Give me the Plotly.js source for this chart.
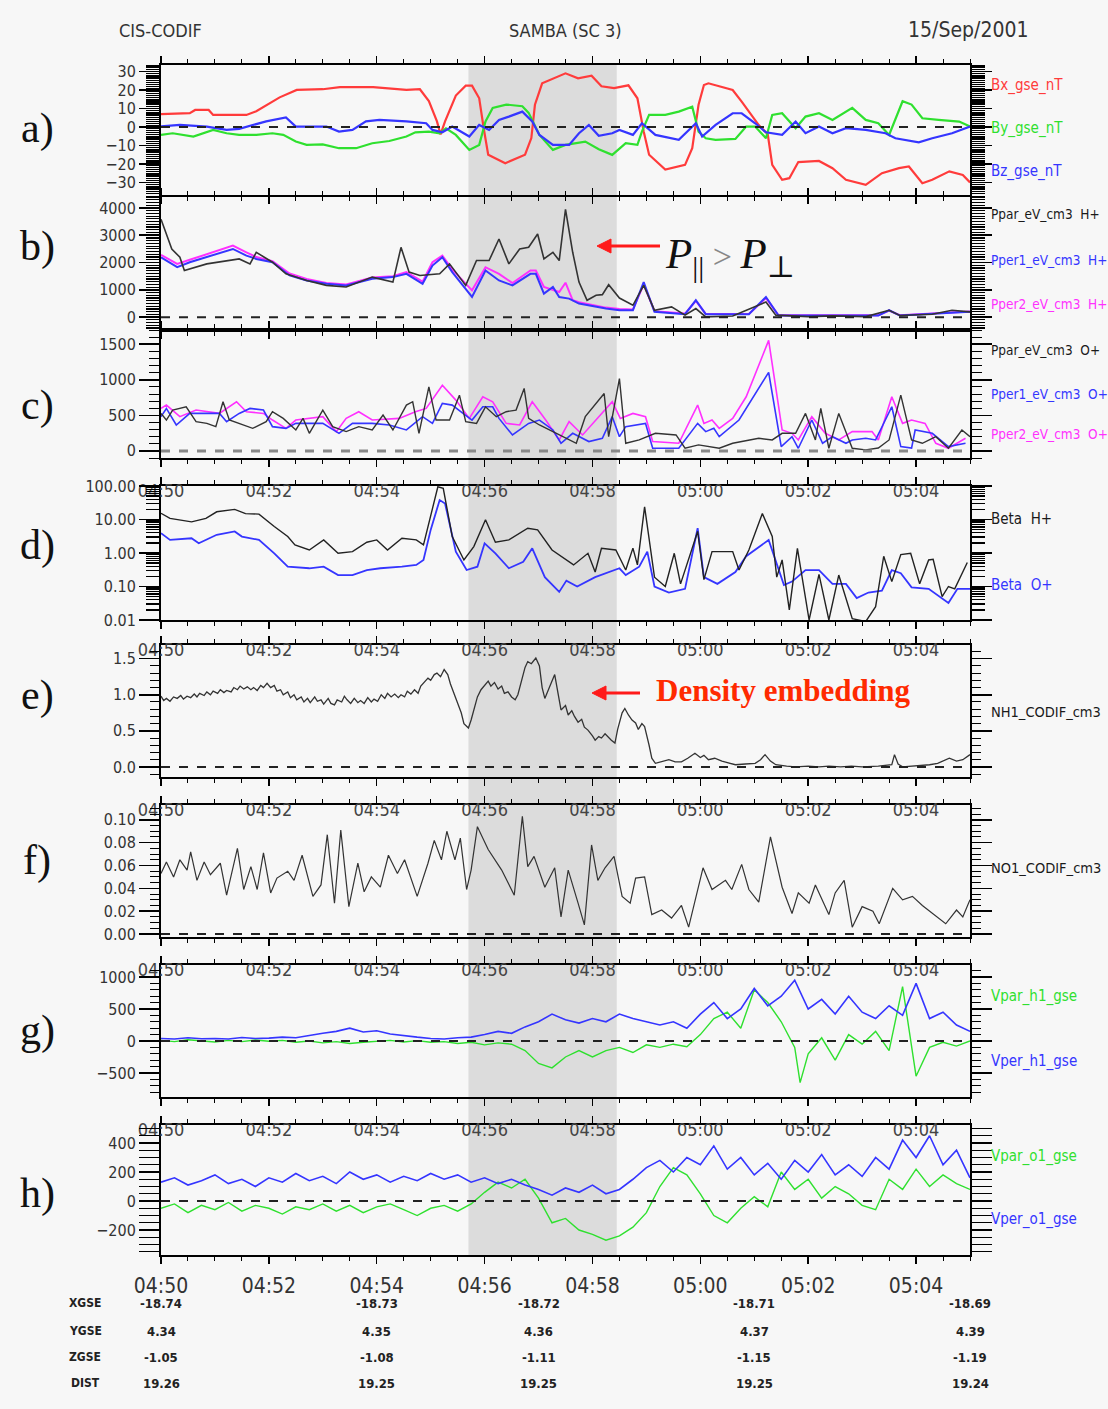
<!DOCTYPE html>
<html><head><meta charset="utf-8">
<script src="https://cdn.plot.ly/plotly-3.0.1.min.js"></script>
<style>html,body{margin:0;padding:0;background:#f7f7f7;} #chart{width:1108px;height:1409px;}</style>
</head><body><div id="chart"></div>
<script>
// ---------------- DATA (time in minutes after 04:50 UT) ----------------
const tBx = [0,0.54,0.64,0.89,0.98,1.59,1.78,2.21,2.52,3.01,3.32,3.94,4.55,4.8,4.98,5.13,5.19,5.28,5.47,5.65,5.77,5.9,5.99,6.08,6.39,6.76,6.88,6.94,7.07,7.5,7.74,7.99,8.17,8.4,8.68,8.84,8.96,9.06,9.36,9.73,9.86,9.98,10.07,10.16,10.6,10.78,11.09,11.25,11.34,11.53,11.65,11.83,12.2,12.45,12.7,13.07,13.38,13.69,13.87,14.12,14.31,14.62,14.87,15];
const Bx = [6.9,7.5,9.2,9.2,6.5,6.5,8.5,16,20,20.4,21.5,21.5,20,20.4,14,3,-4,3,17,22.3,22.3,15.5,-0.7,-15,-19.6,-15,-6,12,23.6,29,26.3,27.7,22,21,22.5,15.5,-2.5,-15,-23,-20.5,-11.5,12,22.7,23.6,20,13.7,1,-4,-20.5,-28.6,-27.7,-19,-18.4,-22.3,-28.6,-31.3,-25,-22.3,-21.4,-30.4,-28.6,-24,-26,-30];
const tBy = [0,0.23,0.6,0.97,1.22,1.46,1.77,2.08,2.27,2.51,2.7,3.0,3.31,3.62,3.93,4.24,4.55,4.73,4.98,5.17,5.29,5.47,5.72,5.9,6.03,6.15,6.4,6.71,6.83,7.02,7.27,7.51,7.88,8.13,8.38,8.62,8.84,8.93,9.06,9.36,9.61,9.86,9.98,10.1,10.29,10.66,10.85,11.03,11.22,11.34,11.53,11.78,11.96,12.2,12.45,12.82,13.07,13.31,13.5,13.75,13.93,14.12,14.43,14.8,15];
const By = [-4.3,-3.4,-5.2,-1.6,-3.4,-4.3,-4.3,-3.4,-4.3,-7.9,-9.7,-9.4,-11.5,-11.5,-8.8,-7.6,-5.2,-2.9,-2.5,-3.4,-0.7,-4.3,-12.4,-9.7,3,10.3,12.1,11.2,7.6,-4.3,-12.4,-9.7,-7.9,-12,-15.1,-8.8,-9.7,-2.5,6.5,6.5,8.3,11,-2.5,-6.1,-7,-6.5,0.2,0.2,-6.1,6.5,7.4,-0.7,5.6,7.4,3.8,10.3,3.8,2,-4.3,13.9,12.1,4.7,3.8,2.9,0.2];
const tBz = [0,0.35,0.85,1.22,1.46,1.71,1.96,2.33,2.51,3.07,3.31,3.56,3.81,4.05,4.55,4.92,5.04,5.23,5.41,5.72,5.9,6.09,6.28,6.46,6.71,6.89,7.02,7.27,7.57,7.76,7.94,8.13,8.38,8.5,8.75,8.93,9.17,9.61,9.92,10.04,10.29,10.6,10.78,11.03,11.22,11.53,11.78,11.96,12.2,12.45,12.7,13.07,13.44,13.63,14.06,14.31,14.68,15];
const Bz = [0.3,1.1,0.2,-1.6,-1,1.1,3,5.1,0.2,0.2,-2.5,-1.6,3,3.8,3,2,-1.6,-2.9,0.2,-5.2,1.1,-1.6,3.8,5.6,8.3,3,-4.3,-9.7,-9.7,-3.4,1.1,-4.8,-3.4,-1.6,-4.3,2,-4.3,-7,2,-5.2,1.1,7.4,7.4,2,-2.9,-4.3,2.9,-3.4,0.2,-3.4,-0.7,-1.6,-3.4,-6.1,-8.3,-6.1,-3.4,0.2];

const tPparH = [0,0.2,0.35,0.44,0.85,1.46,1.65,1.77,2.08,2.33,2.7,3.07,3.44,3.93,4.3,4.46,4.61,4.8,5.17,5.35,5.66,5.85,6.09,6.28,6.46,6.65,6.83,6.99,7.11,7.27,7.39,7.51,7.64,7.76,7.91,8.07,8.19,8.31,8.5,8.75,8.96,9.15,9.48,9.73,9.92,10.1,10.6,10.85,11.22,11.4,12.0,12.45,13.07,13.5,13.7,14.3,14.68,15];
const PparH = [3588,2497,2194,1709,1952,2133,1952,2376,2012,1588,1345,1164,1103,1467,1285,2558,1649,1527,1588,1952,1164,2073,2073,2861,1952,2497,2558,3043,2133,2376,2073,3951,2376,1285,618,800,824,1188,700,436,1164,254,376,73,315,12,40,254,558,73,20,48,20,254,60,109,254,194];
const tPperH = [0,0.3,0.54,0.85,1.34,1.59,1.77,2.08,2.39,2.7,3.07,3.44,3.93,4.3,4.55,4.86,5.04,5.23,5.41,5.78,6.03,6.28,6.52,6.86,6.96,7.11,7.27,7.39,7.57,7.76,8.25,8.5,8.75,8.96,9.15,9.73,9.92,10.1,10.9,11.22,11.45,13.3,13.5,13.7,15];
const Pper1H = [2194,1830,2012,2194,2497,2255,2133,2012,1527,1345,1224,1164,1406,1467,1588,1224,1891,2194,1649,739,1709,1345,1164,1588,1588,861,1103,739,679,497,315,254,254,1285,194,109,618,109,109,739,60,60,254,60,194];
const tPper2H = [0,0.3,0.54,0.85,1.34,1.59,1.77,2.08,2.39,2.7,3.07,3.44,3.93,4.3,4.55,4.86,5.04,5.23,5.41,5.78,6.03,6.28,6.52,6.86,6.96,7.11,7.39,7.51,7.64,7.76,8.25,8.5,8.75,8.96,9.15,9.73,9.92,10.1,10.9,11.22,11.45,13.3,13.5,13.7,15];
const Pper2H = [2280,1952,2100,2300,2618,2376,2200,2050,1600,1400,1250,1200,1450,1500,1650,1300,2012,2255,1750,982,1830,1588,1250,1709,1709,1103,921,1261,618,550,350,300,280,1200,220,130,600,120,120,700,70,70,240,70,210];

const tPparO = [0,0.1,0.23,0.48,0.66,0.85,1.03,1.15,1.28,1.46,1.71,1.96,2.08,2.27,2.51,2.64,2.76,3.01,3.19,3.44,3.68,3.93,4.12,4.3,4.55,4.67,4.79,4.98,5.1,5.35,5.54,5.66,5.85,6.03,6.22,6.4,6.59,6.74,6.83,7.02,7.33,7.57,7.7,7.88,8.07,8.22,8.31,8.5,8.62,8.87,9.18,9.55,9.73,9.98,10.35,10.6,11.09,11.34,11.53,11.77,11.96,12.14,12.24,12.39,12.57,12.82,13.07,13.31,13.5,13.72,13.93,14.12,14.37,14.61,14.86,15];
const PparO = [527,434,574,620,411,387,341,691,434,387,317,411,551,457,294,457,247,574,341,271,341,294,504,294,644,691,247,901,434,434,784,411,387,620,481,551,574,878,457,364,247,154,107,481,667,807,200,1017,107,154,247,224,37,84,37,107,177,154,247,247,527,154,597,37,527,37,14,40,154,784,154,107,200,37,294,200];
const tPper1O = [0,0.1,0.29,0.54,1.09,1.22,1.46,1.65,1.9,2.08,2.33,2.51,3.01,3.31,3.56,3.93,4.24,4.55,4.86,5.04,5.23,5.41,5.6,5.78,5.97,6.15,6.28,6.52,6.83,7.02,7.27,7.42,7.64,7.94,8.19,8.38,8.5,8.62,8.99,9.12,9.61,9.95,10.1,10.26,10.35,10.72,11.28,11.5,11.71,11.83,12.08,12.27,12.45,12.7,12.82,13.07,13.25,13.56,13.72,13.93,13.99,14.3,14.61,14.92];
const Pper1O = [481,597,364,527,527,411,527,597,574,341,317,387,387,247,387,387,364,294,481,387,667,644,527,434,620,620,457,224,387,434,294,107,247,131,177,481,200,341,387,37,37,387,271,317,200,434,1104,60,200,37,434,107,200,107,154,177,154,621,60,40,294,247,60,107];
const tPper2O = [0,0.1,0.35,0.66,1.09,1.4,1.59,1.9,2.08,2.33,2.51,3.01,3.25,3.44,3.68,3.93,4.42,4.73,4.92,5.23,5.47,5.72,5.97,6.15,6.4,6.65,6.89,7.14,7.39,7.57,7.82,8.13,8.38,8.53,8.75,8.99,9.12,9.61,9.95,10.07,10.23,10.35,10.6,10.85,11.28,11.53,11.71,11.83,12.08,12.33,12.57,12.82,13.19,13.31,13.56,13.75,13.93,14.18,14.37,14.61,14.92];
const Pper2O = [597,644,481,574,527,691,551,527,434,317,434,481,271,457,551,434,457,551,597,924,714,457,761,691,387,364,691,434,154,411,224,481,691,457,527,481,131,107,644,387,434,317,457,761,1554,294,247,154,481,247,154,271,271,154,761,387,434,387,107,37,177];

const tBetaH = [0,0.18,0.58,0.84,1.04,1.37,1.57,1.83,2.1,2.36,2.49,2.76,3.02,3.29,3.55,3.82,4.01,4.21,4.48,4.74,4.87,5.01,5.14,5.24,5.4,5.63,5.8,6.03,6.2,6.46,6.8,6.99,7.26,7.65,7.92,8.05,8.18,8.44,8.62,8.75,8.84,8.98,9.15,9.36,9.52,9.64,9.95,10.07,10.23,10.6,10.72,10.91,11.16,11.34,11.43,11.53,11.65,11.8,12.02,12.2,12.39,12.57,12.82,13.07,13.25,13.41,13.56,13.72,13.9,14.08,14.24,14.33,14.49,14.61,14.73,14.95];
const BetaH = [15.3,10.8,8.5,10.8,17,20,15,14.5,6.2,3.1,1.74,1.23,2.46,0.98,1.1,2.1,2.46,1.23,2.76,2.46,1.74,12,95,85,3.1,0.62,1.55,9.8,2.1,2.46,5.5,4.9,1.23,0.44,0.98,0.27,1.38,1.23,0.31,1.4,0.44,24,0.19,0.1,0.98,0.12,4.4,0.16,1.1,1.1,0.31,1.23,15,3.1,0.19,0.62,0.02,1.38,0.01,0.23,0.01,0.22,0.011,0.009,0.025,0.8,0.14,0.9,0.98,0.12,0.62,0.65,0.05,0.1,0.085,0.52];
const tBetaO = [0,0.18,0.58,0.71,1.04,1.37,1.5,1.83,2.1,2.36,2.76,3.02,3.29,3.55,3.82,4.08,4.48,4.74,4.87,5.01,5.17,5.27,5.47,5.67,5.87,6.0,6.2,6.46,6.73,6.89,7.12,7.39,7.52,7.72,8.05,8.31,8.5,8.62,8.87,9.02,9.15,9.42,9.73,9.95,10.07,10.32,10.66,10.85,11.28,11.56,11.71,11.96,12.2,12.45,12.7,12.91,13.13,13.38,13.56,13.72,13.93,14.24,14.61,14.77,15];
const BetaO = [3.9,2.46,2.76,1.95,3.5,4.4,3.1,2.46,0.98,0.39,0.35,0.39,0.22,0.22,0.31,0.35,0.39,0.44,0.62,4.9,38,30,1.1,0.31,0.39,1.95,0.98,0.35,0.55,1.38,0.19,0.069,0.15,0.1,0.19,0.27,0.35,0.22,0.39,1.1,0.1,0.066,0.085,5.5,0.19,0.12,0.27,0.8,2.46,0.11,0.14,0.31,0.31,0.12,0.12,0.045,0.066,0.075,0.31,0.25,0.094,0.085,0.032,0.085,0.085];

const NH1 = [[0,0.98],[0.06,0.92],[0.11,0.95],[0.18,0.91],[0.24,0.97],[0.3,0.95],[0.37,0.99],[0.43,0.94],[0.49,0.98],[0.56,0.96],[0.62,1.01],[0.68,0.97],[0.73,1.02],[0.8,0.99],[0.86,1.04],[0.92,1.0],[0.98,1.05],[1.05,1.02],[1.11,1.07],[1.17,1.03],[1.23,1.06],[1.3,1.04],[1.36,1.1],[1.42,1.07],[1.48,1.12],[1.54,1.08],[1.6,1.11],[1.67,1.07],[1.73,1.1],[1.79,1.06],[1.85,1.13],[1.91,1.1],[1.97,1.16],[2.04,1.1],[2.1,1.13],[2.16,1.05],[2.22,1.07],[2.28,1.0],[2.35,1.04],[2.41,0.96],[2.47,1.0],[2.53,0.93],[2.6,0.97],[2.66,0.9],[2.72,0.95],[2.78,0.89],[2.85,0.97],[2.91,0.91],[2.97,0.93],[3.03,0.87],[3.1,0.95],[3.16,0.88],[3.22,0.86],[3.28,0.93],[3.35,0.9],[3.41,0.98],[3.46,0.93],[3.53,0.88],[3.59,0.95],[3.65,0.89],[3.71,0.92],[3.78,0.88],[3.84,0.96],[3.9,0.9],[3.96,0.94],[4.03,0.91],[4.09,1.0],[4.15,0.95],[4.21,1.02],[4.28,0.97],[4.34,1.01],[4.4,0.96],[4.45,1.0],[4.52,0.97],[4.58,1.05],[4.64,1.01],[4.7,1.07],[4.77,1.02],[4.83,1.12],[4.9,1.18],[4.96,1.23],[5.01,1.2],[5.07,1.28],[5.13,1.3],[5.19,1.25],[5.26,1.35],[5.32,1.28],[5.38,1.15],[5.45,0.98],[5.51,0.9],[5.57,0.75],[5.63,0.6],[5.7,0.54],[5.76,0.65],[5.82,0.85],[5.88,0.97],[5.94,1.07],[6.0,1.13],[6.07,1.19],[6.13,1.12],[6.19,1.17],[6.26,1.08],[6.32,1.12],[6.38,1.02],[6.44,1.04],[6.5,0.97],[6.57,0.93],[6.63,1.0],[6.7,1.25],[6.76,1.38],[6.81,1.46],[6.88,1.43],[6.96,1.51],[7.02,1.4],[7.08,1.1],[7.12,0.95],[7.2,1.1],[7.26,1.2],[7.31,1.28],[7.37,1.0],[7.43,0.79],[7.5,0.85],[7.56,0.72],[7.62,0.78],[7.68,0.7],[7.74,0.62],[7.8,0.66],[7.86,0.55],[7.93,0.51],[8.0,0.43],[8.05,0.37],[8.12,0.42],[8.18,0.4],[8.24,0.46],[8.3,0.4],[8.36,0.37],[8.42,0.33],[8.48,0.52],[8.55,0.75],[8.61,0.81],[8.67,0.72],[8.74,0.65],[8.8,0.61],[8.86,0.52],[8.92,0.6],[8.98,0.56],[9.05,0.3],[9.11,0.12],[9.17,0.05],[9.3,0.08],[9.42,0.1],[9.54,0.07],[9.66,0.07],[9.78,0.12],[9.91,0.19],[10.0,0.13],[10.08,0.16],[10.16,0.1],[10.28,0.12],[10.41,0.08],[10.53,0.06],[10.66,0.03],[10.84,0.04],[11.03,0.05],[11.12,0.1],[11.21,0.17],[11.3,0.08],[11.4,0.03],[11.6,0.01],[11.77,0.0],[12.0,0.01],[12.2,0.0],[12.39,0.01],[12.6,0.0],[12.8,0.01],[13.01,0.0],[13.3,0.01],[13.55,0.03],[13.61,0.17],[13.67,0.04],[13.76,0.0],[14.0,0.01],[14.25,0.03],[14.4,0.05],[14.5,0.08],[14.63,0.12],[14.75,0.08],[14.87,0.1],[15,0.17]];

const NO1 = [[0,0.053],[0.11,0.063],[0.24,0.05],[0.36,0.065],[0.49,0.056],[0.55,0.072],[0.67,0.047],[0.8,0.063],[0.92,0.052],[1.11,0.062],[1.23,0.034],[1.42,0.075],[1.54,0.039],[1.67,0.059],[1.79,0.039],[1.91,0.071],[2.04,0.036],[2.16,0.049],[2.35,0.055],[2.47,0.047],[2.62,0.069],[2.82,0.033],[2.97,0.043],[3.09,0.087],[3.22,0.027],[3.34,0.091],[3.49,0.024],[3.65,0.062],[3.77,0.037],[3.9,0.05],[4.08,0.041],[4.23,0.069],[4.39,0.053],[4.52,0.065],[4.76,0.033],[4.95,0.062],[5.07,0.082],[5.2,0.065],[5.3,0.09],[5.45,0.065],[5.55,0.084],[5.67,0.039],[5.76,0.056],[5.88,0.094],[6.07,0.074],[6.32,0.056],[6.56,0.034],[6.71,0.103],[6.81,0.059],[6.93,0.068],[7.12,0.041],[7.3,0.058],[7.43,0.015],[7.55,0.056],[7.74,0.027],[7.86,0.008],[7.99,0.078],[8.11,0.047],[8.24,0.058],[8.4,0.068],[8.55,0.033],[8.7,0.027],[8.8,0.049],[8.98,0.05],[9.11,0.017],[9.29,0.021],[9.48,0.014],[9.66,0.025],[9.79,0.006],[9.91,0.03],[10.06,0.058],[10.22,0.039],[10.47,0.047],[10.59,0.039],[10.78,0.061],[10.9,0.039],[11.09,0.028],[11.31,0.085],[11.52,0.041],[11.71,0.018],[11.83,0.036],[12.02,0.027],[12.14,0.043],[12.39,0.017],[12.51,0.036],[12.68,0.047],[12.83,0.006],[13.01,0.024],[13.2,0.02],[13.32,0.009],[13.57,0.04],[13.76,0.03],[13.94,0.033],[14.13,0.025],[14.31,0.018],[14.56,0.009],[14.75,0.021],[14.87,0.015],[15,0.03]];

// velocities, sampled every 15 s (0.25 min)
const Vpar_h1 = [10,-10,20,0,-15,10,-10,15,-5,10,-20,0,-30,-10,-40,-20,-10,10,-15,5,-20,-10,-40,-20,-60,-30,-50,-150,-350,-420,-250,-150,-250,-150,-100,-180,-60,-100,-50,-90,100,350,450,200,800,600,300,-100,-200,50,-300,100,-50,150,-150,850,-550,-100,-20,-80,0];
const Vper_h1 = [40,30,50,35,40,30,55,40,45,60,50,90,120,150,200,140,160,110,80,60,40,30,50,60,100,150,120,220,300,420,330,280,350,300,420,350,300,250,300,200,420,600,350,500,820,550,700,950,500,650,420,700,450,350,550,400,900,350,450,250,150];
const Vpar_o1 = [-50,-20,-80,-30,-60,-10,-70,-30,-50,-90,-40,-60,-20,-70,-30,-80,-40,-20,-60,-100,-50,-30,-70,-20,60,130,90,150,20,-150,-120,-200,-230,-270,-240,-180,-80,100,230,180,50,-100,-150,-50,30,-40,200,80,150,20,100,50,-30,-60,150,80,220,100,180,120,80];
const Vper_o1 = [130,160,110,140,180,120,150,100,160,130,190,140,170,120,200,150,180,130,170,140,190,150,180,130,160,120,150,110,80,40,90,60,110,50,80,150,230,280,200,300,250,380,220,300,180,260,150,280,200,320,180,250,170,300,220,420,300,450,250,350,160];
const Vpar_h1_dip = [[11.85,-650]];   // deep isolated dip of Vpar_h1 near 05:01:51

// shaded interval
const shadeStart = 5.70, shadeEnd = 8.45;

// ephemeris
const ephTimes = [0, 4, 7, 11, 15];
const XGSE = ['-18.74','-18.73','-18.72','-18.71','-18.69'];
const YGSE = ['4.34','4.35','4.36','4.37','4.39'];
const ZGSE = ['-1.05','-1.08','-1.11','-1.15','-1.19'];
const DIST = ['19.26','19.25','19.25','19.25','19.24'];

// ---------------- helpers ----------------
const base = Date.UTC(2001, 8, 15, 4, 50, 0);
const toT = m => new Date(base + Math.round(m * 60000)).toISOString().replace('T', ' ').slice(0, 19);
const W = 1108, H = 1409;
const px = x => x / W, py = y => 1 - y / H;
const NARROW = '"Liberation Sans Narrow", "DejaVu Sans Condensed", "Arial Narrow", "Liberation Sans", sans-serif';
const SERIF = '"Liberation Serif", "DejaVu Serif", serif';
const RED = '#ff3b3b', GREEN = '#2fe02f', BLUE = '#3535ff', MAG = '#ff30ff', BLK = '#1a1a1a';

const tV = Array.from({length: Vpar_h1.length}, (_, i) => i * 0.25);
let vph = tV.map((t, i) => [t, Vpar_h1[i]]).concat(Vpar_h1_dip).sort((a, b) => a[0] - b[0]);

function tr(t, v, k, color, width) {
  return {x: t.map(toT), y: v, xaxis: k === 1 ? 'x' : 'x' + k, yaxis: k === 1 ? 'y' : 'y' + k,
    mode: 'lines', line: {color: color, width: width || 1.6}, hoverinfo: 'skip', showlegend: false};
}

const traces = [
  tr(tBx, Bx, 1, RED, 2.2), tr(tBy, By, 1, GREEN, 2.2), tr(tBz, Bz, 1, BLUE, 2.2),
  tr(tPper2H, Pper2H, 2, MAG, 2), tr(tPperH, Pper1H, 2, BLUE, 2), tr(tPparH, PparH, 2, '#333', 1.6),
  tr(tPper2O, Pper2O, 3, MAG, 1.6), tr(tPper1O, Pper1O, 3, BLUE, 1.6), tr(tPparO, PparO, 3, '#333', 1.4),
  tr(tBetaO, BetaO, 4, BLUE, 1.8), tr(tBetaH, BetaH, 4, '#222', 1.4),
  tr(NH1.map(p => p[0]), NH1.map(p => p[1]), 5, '#333', 1.3),
  tr(NO1.map(p => p[0]), NO1.map(p => p[1]), 6, '#333', 1.2),
  tr(vph.map(p => p[0]), vph.map(p => p[1]), 7, GREEN, 1.4), tr(tV, Vper_h1, 7, BLUE, 1.6),
  tr(tV, Vpar_o1, 8, GREEN, 1.4), tr(tV, Vper_o1, 8, BLUE, 1.6)
];
const carrier = tr(tV, Vper_o1, 8, 'rgba(0,0,0,0)', 0);
carrier.xaxis = 'x9';
traces.push(carrier);

const panels = [[65,195],[197,330],[330,458],[486,620],[645,777],[805,937],[965,1097],[1125,1255]];

const layout = {
  width: W, height: H, margin: {l: 0, r: 0, t: 0, b: 0},
  paper_bgcolor: '#f7f7f7', plot_bgcolor: 'rgba(0,0,0,0)',
  showlegend: false, shapes: [], annotations: []
};

const xBase = {
  type: 'date', range: [toT(0), toT(15)], domain: [px(161), px(970)],
  showline: true, linecolor: '#000', linewidth: 2, mirror: 'allticks',
  ticks: 'outside', ticklen: 7, tickwidth: 1.5, tickcolor: '#000',
  tick0: toT(0), dtick: 120000, tickformat: '%H:%M',
  showgrid: false, zeroline: false, showticklabels: false, fixedrange: true,
  minor: {ticks: 'outside', ticklen: 4, tickwidth: 1, tickcolor: '#000', dtick: 30000, showgrid: false}
};
const yBase = {
  showline: true, linecolor: '#000', linewidth: 2, mirror: 'allticks',
  ticks: 'outside', ticklen: 20, tickwidth: 1.5, tickcolor: '#000',
  showgrid: false, zeroline: false, fixedrange: true,
  tickfont: {family: NARROW, size: 16, color: '#333'}
};

const yCfg = [
  {range: [-36.8, 33.5], dtick: 10, minor: {dtick: 1, ticklen: 13, ticks: 'outside', tickcolor: '#000', tickwidth: 1.2}},
  {range: [-470, 4400], dtick: 1000, minor: {dtick: 100, ticklen: 13, ticks: 'outside', tickcolor: '#000', tickwidth: 1.2}},
  {range: [-100, 1700], dtick: 500, minor: {dtick: 100, ticklen: 10, ticks: 'outside', tickcolor: '#000', tickwidth: 1}},
  {type: 'log', range: [-2, 2], tickvals: [0.01, 0.1, 1, 10, 100], ticktext: ['0.01', '0.10', '1.00', '10.00', '100.00'],
   minor: {dtick: 'D1', ticklen: 13, ticks: 'outside', tickcolor: '#000', tickwidth: 1.2}},
  {range: [-0.14, 1.69], dtick: 0.5, tickformat: '.1f', minor: {dtick: 0.1, ticklen: 9, ticks: 'outside', tickcolor: '#000', tickwidth: 1}},
  {range: [-0.0026, 0.113], dtick: 0.02, tickformat: '.2f', minor: {dtick: 0.005, ticklen: 9, ticks: 'outside', tickcolor: '#000', tickwidth: 1}},
  {range: [-875, 1187], dtick: 500, minor: {dtick: 100, ticklen: 9, ticks: 'outside', tickcolor: '#000', tickwidth: 1}},
  {range: [-372, 524], dtick: 200, minor: {dtick: 50, ticklen: 9, ticks: 'outside', tickcolor: '#000', tickwidth: 1}}
];

panels.forEach((p, i) => {
  const k = i + 1;
  const xa = JSON.parse(JSON.stringify(xBase));
  xa.anchor = k === 1 ? 'y' : 'y' + k;
  if (k >= 4) {
    xa.side = 'top';
    xa.showticklabels = true;
    xa.ticklabelstandoff = -27;
    xa.tickfont = {family: NARROW, size: 18, color: '#444'};
  }
  const ya = Object.assign(JSON.parse(JSON.stringify(yBase)), yCfg[i]);
  ya.domain = [py(p[1]), py(p[0])];
  ya.anchor = k === 1 ? 'x' : 'x' + k;
  layout[k === 1 ? 'xaxis' : 'xaxis' + k] = xa;
  layout[k === 1 ? 'yaxis' : 'yaxis' + k] = ya;
  if (k !== 4) {
    layout.shapes.push({type: 'line', xref: 'paper', yref: k === 1 ? 'y' : 'y' + k,
      x0: px(161), x1: px(970), y0: 0, y1: 0,
      line: {color: k === 3 ? '#888' : '#222', width: k === 3 ? 3 : 2, dash: 'dash'}});
  }
});
layout.xaxis9 = {type: 'date', range: [toT(0), toT(15)], domain: [px(161), px(970)], overlaying: 'x8', anchor: 'y8',
  side: 'bottom', showline: false, ticks: '', tick0: toT(0), dtick: 120000, tickformat: '%H:%M',
  showgrid: false, zeroline: false, fixedrange: true, ticklabelstandoff: 16,
  tickfont: {family: NARROW, size: 21, color: '#333'}};

layout.shapes.unshift({type: 'rect', xref: 'x', yref: 'paper', x0: toT(shadeStart), x1: toT(shadeEnd),
  y0: py(1255), y1: py(65), fillcolor: '#dcdcdc', line: {width: 0}, layer: 'below'});

function arrow(xTail, xHead, y) {
  layout.shapes.push({type: 'line', xref: 'paper', yref: 'paper', x0: px(xTail), x1: px(xHead + 10), y0: py(y), y1: py(y),
    line: {color: '#ff1a1a', width: 3}});
  layout.shapes.push({type: 'path', xref: 'paper', yref: 'paper',
    path: 'M ' + px(xHead) + ' ' + py(y) + ' L ' + px(xHead + 14) + ' ' + py(y - 7) + ' L ' + px(xHead + 14) + ' ' + py(y + 7) + ' Z',
    fillcolor: '#ff1a1a', line: {color: '#ff1a1a', width: 1}});
}
arrow(660, 597, 246);
arrow(640, 592, 693);

const A = layout.annotations;
function txt(x, y, text, opt) {
  A.push(Object.assign({xref: 'paper', yref: 'paper', x: px(x), y: py(y), text: text, showarrow: false,
    xanchor: 'center', yanchor: 'middle', font: {family: NARROW, size: 16, color: '#333'}}, opt || {}));
}
txt(160, 30, 'CIS-CODIF', {font: {family: NARROW, size: 18, color: '#333'}});
txt(565, 30, 'SAMBA (SC 3)', {font: {family: NARROW, size: 18, color: '#333'}});
txt(968, 30, '15/Sep/2001', {font: {family: NARROW, size: 21, color: '#333'}});
[['a)',128],['b)',247],['c)',405],['d)',545],['e)',695],['f)',860],['g)',1030],['h)',1193]].forEach(l =>
  txt(37, l[1], l[0], {font: {family: SERIF, size: 42, color: '#111'}}));
[['Bx_gse_nT',85,RED,15],['By_gse_nT',128,GREEN,15],['Bz_gse_nT',172,BLUE,15],
 ['Ppar_eV_cm3  H+',214,BLK,13.5],['Pper1_eV_cm3  H+',260,BLUE,13.5],['Pper2_eV_cm3  H+',304,MAG,13.5],
 ['Ppar_eV_cm3  O+',350,BLK,13.5],['Pper1_eV_cm3  O+',394,BLUE,13.5],['Pper2_eV_cm3  O+',434,MAG,13.5],
 ['Beta  H+',519,BLK,15],['Beta  O+',585,BLUE,15],
 ['NH1_CODIF_cm3',712,BLK,14.5],['NO1_CODIF_cm3',868,BLK,14.5],
 ['Vpar_h1_gse',996,GREEN,15],['Vper_h1_gse',1061,BLUE,15],
 ['Vpar_o1_gse',1156,GREEN,15],['Vper_o1_gse',1219,BLUE,15]].forEach(l =>
  txt(989, l[1], l[0], {xanchor: 'left', font: {family: NARROW, size: l[3], color: l[2]}}));

txt(730, 257, '<i>P</i><sub>||</sub><span style="color:#888;font-size:34px"> &gt; </span><i>P</i><sub>⊥</sub>',
  {font: {family: SERIF, size: 43, color: '#111'}});
txt(783, 690, '<b>Density embedding</b>', {font: {family: SERIF, size: 31, color: '#ff2a00'}});

const rows = [['XGSE', XGSE, 1303], ['YGSE', YGSE, 1331], ['ZGSE', ZGSE, 1357], ['DIST', DIST, 1383]];
rows.forEach(r => {
  txt(85, r[2], '<b>' + r[0] + '</b>', {font: {family: NARROW, size: 12, color: '#222'}});
  r[1].forEach((v, j) => A.push({xref: 'x8', yref: 'paper', x: toT(ephTimes[j]), y: py(r[2]), text: '<b>' + v + '</b>',
    showarrow: false, xanchor: 'center', yanchor: 'middle', font: {family: NARROW, size: 13, color: '#222'}}));
});

Plotly.newPlot('chart', traces, layout, {staticPlot: true, displayModeBar: false});
</script></body></html>
